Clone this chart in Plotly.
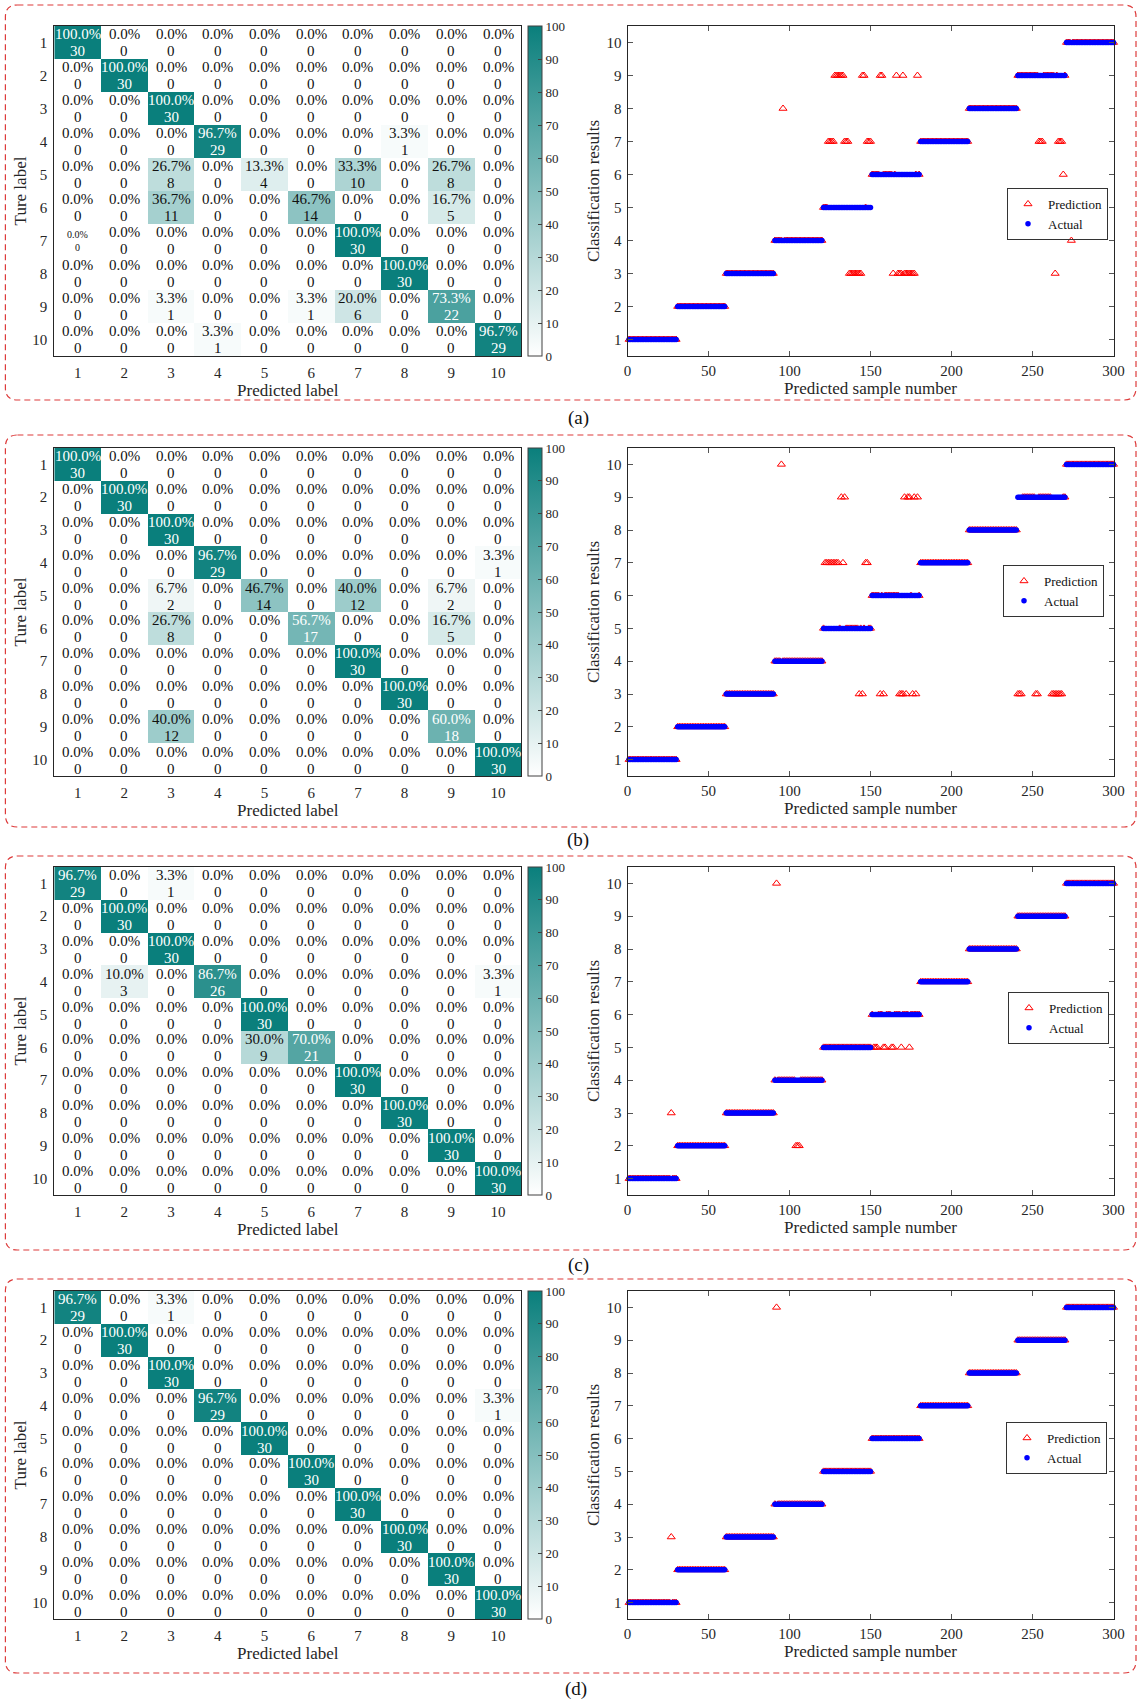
import plotly.graph_objects as go

W, H = 1138, 1700
FONT = "Times New Roman, Liberation Serif, serif"

# ---------------- data ----------------
class_labels = [1, 2, 3, 4, 5, 6, 7, 8, 9, 10]
samples_per_class = [30, 30, 30, 30, 30, 30, 30, 30, 30, 30]
panel_tags = ["(a)", "(b)", "(c)", "(d)"]

# confusion matrices (counts): rows = true label, columns = predicted label
cm_a = [
    [30, 0, 0, 0, 0, 0, 0, 0, 0, 0],
    [0, 30, 0, 0, 0, 0, 0, 0, 0, 0],
    [0, 0, 30, 0, 0, 0, 0, 0, 0, 0],
    [0, 0, 0, 29, 0, 0, 0, 1, 0, 0],
    [0, 0, 8, 0, 4, 0, 10, 0, 8, 0],
    [0, 0, 11, 0, 0, 14, 0, 0, 5, 0],
    [0, 0, 0, 0, 0, 0, 30, 0, 0, 0],
    [0, 0, 0, 0, 0, 0, 0, 30, 0, 0],
    [0, 0, 1, 0, 0, 1, 6, 0, 22, 0],
    [0, 0, 0, 1, 0, 0, 0, 0, 0, 29],
]
cm_b = [
    [30, 0, 0, 0, 0, 0, 0, 0, 0, 0],
    [0, 30, 0, 0, 0, 0, 0, 0, 0, 0],
    [0, 0, 30, 0, 0, 0, 0, 0, 0, 0],
    [0, 0, 0, 29, 0, 0, 0, 0, 0, 1],
    [0, 0, 2, 0, 14, 0, 12, 0, 2, 0],
    [0, 0, 8, 0, 0, 17, 0, 0, 5, 0],
    [0, 0, 0, 0, 0, 0, 30, 0, 0, 0],
    [0, 0, 0, 0, 0, 0, 0, 30, 0, 0],
    [0, 0, 12, 0, 0, 0, 0, 0, 18, 0],
    [0, 0, 0, 0, 0, 0, 0, 0, 0, 30],
]
cm_c = [
    [29, 0, 1, 0, 0, 0, 0, 0, 0, 0],
    [0, 30, 0, 0, 0, 0, 0, 0, 0, 0],
    [0, 0, 30, 0, 0, 0, 0, 0, 0, 0],
    [0, 3, 0, 26, 0, 0, 0, 0, 0, 1],
    [0, 0, 0, 0, 30, 0, 0, 0, 0, 0],
    [0, 0, 0, 0, 9, 21, 0, 0, 0, 0],
    [0, 0, 0, 0, 0, 0, 30, 0, 0, 0],
    [0, 0, 0, 0, 0, 0, 0, 30, 0, 0],
    [0, 0, 0, 0, 0, 0, 0, 0, 30, 0],
    [0, 0, 0, 0, 0, 0, 0, 0, 0, 30],
]
cm_d = [
    [29, 0, 1, 0, 0, 0, 0, 0, 0, 0],
    [0, 30, 0, 0, 0, 0, 0, 0, 0, 0],
    [0, 0, 30, 0, 0, 0, 0, 0, 0, 0],
    [0, 0, 0, 29, 0, 0, 0, 0, 0, 1],
    [0, 0, 0, 0, 30, 0, 0, 0, 0, 0],
    [0, 0, 0, 0, 0, 30, 0, 0, 0, 0],
    [0, 0, 0, 0, 0, 0, 30, 0, 0, 0],
    [0, 0, 0, 0, 0, 0, 0, 30, 0, 0],
    [0, 0, 0, 0, 0, 0, 0, 0, 30, 0],
    [0, 0, 0, 0, 0, 0, 0, 0, 0, 30],
]

# misclassified test samples: (sample number, predicted label)
errors_a = [
    (96, 8),
    (124, 7), (125, 7), (126, 7), (127, 7),
    (128, 9), (129, 9), (130, 9), (131, 9), (132, 9), (133, 9),
    (134, 7), (135, 7), (136, 7),
    (137, 3), (138, 3), (139, 3), (140, 3), (141, 3), (142, 3), (143, 3), (144, 3),
    (145, 9), (146, 9), (148, 7), (149, 7), (150, 7),
    (156, 9), (157, 9), (166, 9), (170, 9), (179, 9),
    (164, 3), (167, 3), (168, 3), (169, 3), (171, 3), (172, 3), (173, 3),
    (174, 3), (175, 3), (176, 3), (177, 3),
    (254, 7), (255, 7), (256, 7), (264, 3), (266, 7), (267, 7), (268, 7), (269, 6),
    (274, 4),
]
errors_b = [
    (95, 10),
    (122, 7), (123, 7), (124, 7), (125, 7), (126, 7), (127, 7), (128, 7), (129, 7), (130, 7),
    (132, 9), (133, 7), (134, 9), (143, 3), (145, 3), (147, 7), (148, 7),
    (156, 3), (158, 3), (168, 3), (169, 3), (170, 3), (172, 3), (176, 3), (178, 3),
    (171, 9), (173, 9), (174, 9), (177, 9), (179, 9),
    (241, 3), (242, 3), (243, 3), (252, 3), (253, 3),
    (262, 3), (263, 3), (264, 3), (265, 3), (266, 3), (267, 3), (268, 3),
]
errors_c = [
    (27, 3), (92, 10), (104, 2), (105, 2), (106, 2),
    (152, 5), (153, 5), (154, 5), (158, 5), (159, 5), (163, 5), (164, 5), (169, 5), (174, 5),
]
errors_d = [(27, 3), (92, 10)]

# ---------------- layout geometry (pixels) ----------------
rows_px = [(26, 356), (448, 776), (867, 1195), (1291, 1619)]
boxes_px = [(5.4, 5, 1136, 400), (5.4, 435, 1136, 827), (5.4, 856, 1136, 1250), (5.4, 1279, 1136, 1673)]
tag_px = [(578, 418), (578, 840), (578, 1265), (576, 1689)]
legend_px = [(1007, 188), (1003, 565), (1008, 992), (1006, 1422)]
hm_x = (54.3, 521.4)
cb_x = 527.5
sc_x = (627.5, 1113.5)


def px(x):
    return x / W


def py(y):
    return 1 - y / H


actual = [c for c, n in zip(class_labels, samples_per_class) for _ in range(n)]
sample_no = list(range(1, len(actual) + 1))


def predictions(errors):
    p = list(actual)
    for s, lab in errors:
        p[s - 1] = lab
    return p


cms = [cm_a, cm_b, cm_c, cm_d]
errs = [errors_a, errors_b, errors_c, errors_d]

fig = go.Figure()
annotations = []
shapes = []
layout_axes = {}
layout_legends = {}

TEAL = "#0a7f7c"
AX = "#262626"

for i in range(4):
    cm = cms[i]
    pct = [[100.0 * v / sum(row) for v in row] for row in cm]
    top, bot = rows_px[i]
    hx, hy = f"x{2*i+1}", f"y{2*i+1}"
    sx, sy = f"x{2*i+2}", f"y{2*i+2}"
    fig.add_trace(go.Heatmap(
        z=pct, x=class_labels, y=class_labels,
        xaxis=hx, yaxis=hy, zmin=0, zmax=100,
        colorscale=[[0, "#ffffff"], [1, TEAL]],
        hoverinfo="skip",
        colorbar=dict(
            x=px(cb_x), xanchor="left", xpad=0,
            y=py((top + bot) / 2), yanchor="middle", ypad=0,
            len=bot - top, lenmode="pixels",
            thickness=13.5, thicknessmode="pixels",
            outlinewidth=1, outlinecolor="#404040",
            tickvals=list(range(0, 101, 10)), ticks="inside", ticklen=4,
            tickcolor="#404040", tickfont=dict(family=FONT, size=13, color="#262626"),
        ),
    ))
    for r in range(10):
        for c in range(10):
            v = pct[r][c]
            small = (i == 0 and r == 6 and c == 0)
            col = "#ffffff" if v >= 50 else "#111111"
            fs = 10 if small else 15
            annotations.append(dict(
                x=class_labels[c], y=class_labels[r], xref=hx, yref=hy,
                text=f"{v:.1f}%", showarrow=False, yshift=6 if small else 8,
                font=dict(family=FONT, size=fs, color=col),
            ))
            annotations.append(dict(
                x=class_labels[c], y=class_labels[r], xref=hx, yref=hy,
                text=f"{cm[r][c]}", showarrow=False, yshift=-7 if small else -9,
                font=dict(family=FONT, size=fs, color=col),
            ))

    pred = predictions(errs[i])
    leg = "legend" if i == 0 else f"legend{i+1}"
    fig.add_trace(go.Scatter(
        x=sample_no, y=pred, mode="markers", name="Prediction",
        xaxis=sx, yaxis=sy, legend=leg, cliponaxis=False,
        marker=dict(symbol="triangle-up-open", size=7, color="#ff0000",
                    line=dict(width=1, color="#ff0000")),
    ))
    fig.add_trace(go.Scatter(
        x=sample_no, y=actual, mode="markers", name="Actual",
        xaxis=sx, yaxis=sy, legend=leg, cliponaxis=False,
        marker=dict(symbol="circle", size=5.5, color="#0000ff", line=dict(width=0)),
    ))

    tf = dict(family=FONT, size=15, color="#262626")
    ttf = dict(family=FONT, size=17, color="#262626")
    n = 2 * i + 1
    layout_axes[f"xaxis{n}"] = dict(
        domain=[px(hm_x[0]), px(hm_x[1])], anchor=hy, range=[0.5, 10.5],
        tickvals=class_labels, ticks="", showgrid=False, zeroline=False,
        showline=True, mirror=True, linecolor=AX, linewidth=1, automargin=False,
        tickfont=tf, ticklabelstandoff=3,
        title=dict(text="Predicted label", font=ttf, standoff=2),
    )
    layout_axes[f"yaxis{n}"] = dict(
        domain=[py(bot), py(top)], anchor=hx, range=[10.5, 0.5],
        tickvals=class_labels, ticks="", showgrid=False, zeroline=False,
        showline=True, mirror=True, linecolor=AX, linewidth=1, automargin=False,
        tickfont=tf, ticklabelstandoff=3,
        title=dict(text="Ture label", font=ttf, standoff=1),
    )
    layout_axes[f"xaxis{n+1}"] = dict(
        domain=[px(sc_x[0]), px(sc_x[1])], anchor=sy, range=[0, 300],
        tickvals=[0, 50, 100, 150, 200, 250, 300], ticks="inside", ticklen=5,
        tickcolor="#555555", showgrid=False, zeroline=False,
        showline=True, mirror="ticks", linecolor=AX, linewidth=1, automargin=False,
        tickfont=tf, ticklabelstandoff=1,
        title=dict(text="Predicted sample number", font=ttf, standoff=2),
    )
    layout_axes[f"yaxis{n+1}"] = dict(
        domain=[py(bot), py(top)], anchor=sx, range=[0.5, 10.5],
        tickvals=class_labels, ticks="inside", ticklen=5,
        tickcolor="#555555", showgrid=False, zeroline=False,
        showline=True, mirror="ticks", linecolor=AX, linewidth=1, automargin=False,
        tickfont=tf, ticklabelstandoff=2,
        title=dict(text="Classification results", font=ttf, standoff=2),
    )
    lx, ly = legend_px[i]
    layout_legends[leg] = dict(
        x=px(lx), y=py(ly), xanchor="left", yanchor="top",
        bgcolor="rgba(255,255,255,0)", bordercolor="#333333", borderwidth=1,
        font=dict(family=FONT, size=13, color="#111111"),
        itemwidth=30, tracegroupgap=0,
    )

    # dashed rounded frame
    x0, y0, x1, y1 = boxes_px[i]
    rad = 12
    path = (
        f"M {px(x0+rad)},{py(y0)} H {px(x1-rad)} Q {px(x1)},{py(y0)} {px(x1)},{py(y0+rad)} "
        f"V {py(y1-rad)} Q {px(x1)},{py(y1)} {px(x1-rad)},{py(y1)} "
        f"H {px(x0+rad)} Q {px(x0)},{py(y1)} {px(x0)},{py(y1-rad)} "
        f"V {py(y0+rad)} Q {px(x0)},{py(y0)} {px(x0+rad)},{py(y0)} Z"
    )
    shapes.append(dict(type="path", path=path, xref="paper", yref="paper",
                       line=dict(color="#dd3b3b", width=1.2, dash="6px,4px")))
    tx, ty = tag_px[i]
    annotations.append(dict(x=px(tx), y=py(ty), xref="paper", yref="paper",
                            xanchor="center", yanchor="middle",
                            text=panel_tags[i], showarrow=False,
                            font=dict(family=FONT, size=19, color="#111111")))

fig.update_layout(
    width=W, height=H, margin=dict(l=0, r=0, t=0, b=0, autoexpand=False),
    paper_bgcolor="#ffffff", plot_bgcolor="#ffffff",
    font=dict(family=FONT, color="#262626"),
    annotations=annotations, shapes=shapes,
    showlegend=True,
    **layout_axes, **layout_legends,
)

fig.write_html("out.html")
